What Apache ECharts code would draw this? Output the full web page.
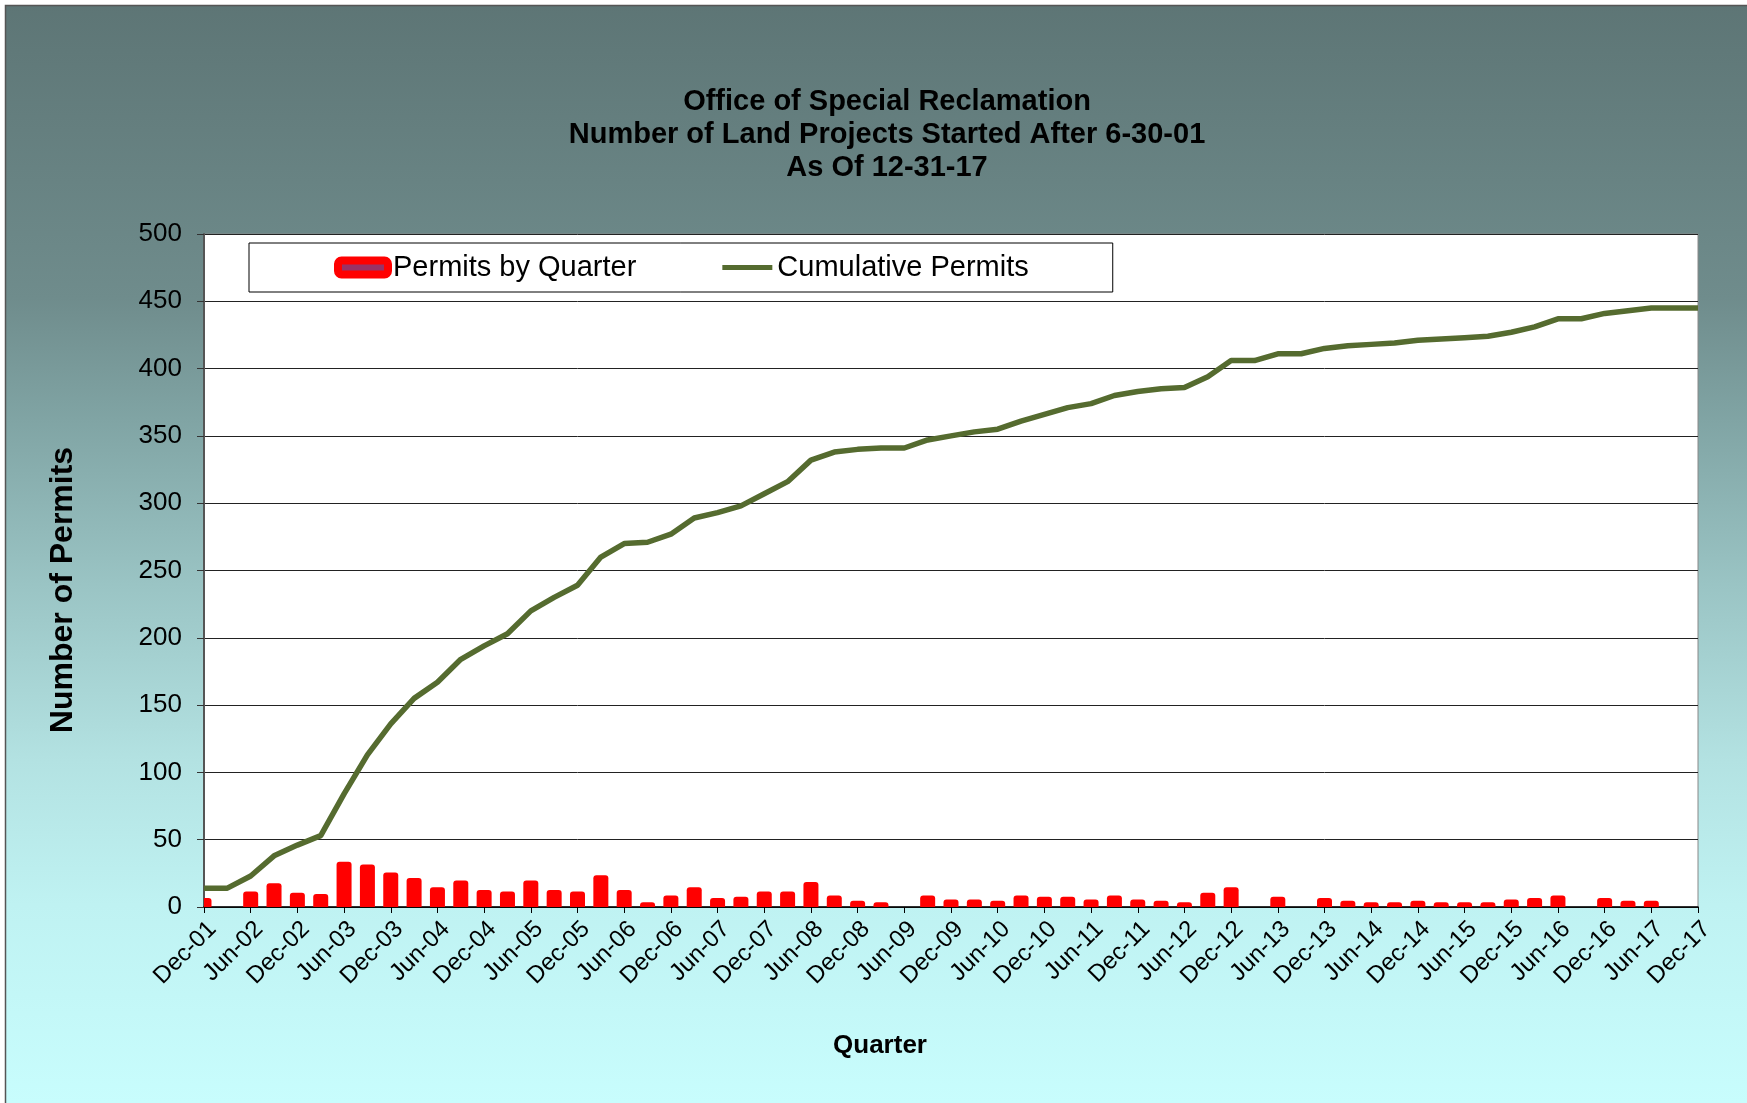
<!DOCTYPE html>
<html>
<head>
<meta charset="utf-8">
<title>Office of Special Reclamation</title>
<script src="https://cdn.jsdelivr.net/npm/echarts@6/dist/echarts.min.js"></script>
<style>
  html, body { margin: 0; padding: 0; background: #fff; }
  #main { width: 1747px; height: 1103px; }
</style>
</head>
<body>
<div id="main"></div>
<script>
// quarters, Dec-01 .. Dec-17
const quarters = [
  'Dec-01', 'Mar-02', 'Jun-02', 'Sep-02', 'Dec-02', 'Mar-03', 'Jun-03', 'Sep-03', 'Dec-03',
  'Mar-04', 'Jun-04', 'Sep-04', 'Dec-04', 'Mar-05', 'Jun-05', 'Sep-05', 'Dec-05',
  'Mar-06', 'Jun-06', 'Sep-06', 'Dec-06', 'Mar-07', 'Jun-07', 'Sep-07', 'Dec-07',
  'Mar-08', 'Jun-08', 'Sep-08', 'Dec-08', 'Mar-09', 'Jun-09', 'Sep-09', 'Dec-09',
  'Mar-10', 'Jun-10', 'Sep-10', 'Dec-10', 'Mar-11', 'Jun-11', 'Sep-11', 'Dec-11',
  'Mar-12', 'Jun-12', 'Sep-12', 'Dec-12', 'Mar-13', 'Jun-13', 'Sep-13', 'Dec-13',
  'Mar-14', 'Jun-14', 'Sep-14', 'Dec-14', 'Mar-15', 'Jun-15', 'Sep-15', 'Dec-15',
  'Mar-16', 'Jun-16', 'Sep-16', 'Dec-16', 'Mar-17', 'Jun-17', 'Sep-17', 'Dec-17'
];

const permitsByQuarter = [
  4, 0, 9, 15, 8, 7, 31, 29, 23,
  19, 12, 17, 10, 9, 17, 10, 9,
  21, 10, 1, 6, 12, 4, 5, 9,
  9, 16, 6, 2, 1, 0, 6, 3,
  3, 2, 6, 5, 5, 3, 6, 3,
  2, 1, 8, 12, 0, 5, 0, 4,
  2, 1, 1, 2, 1, 1, 1, 3,
  4, 6, 0, 4, 2, 2, 0, 0
];

const cumulativePermits = [
  14, 14, 23, 38, 46, 53, 84, 113, 136,
  155, 167, 184, 194, 203, 220, 230, 239,
  260, 270, 271, 277, 289, 293, 298, 307,
  316, 332, 338, 340, 341, 341, 347, 350,
  353, 355, 361, 366, 371, 374, 380, 383,
  385, 386, 394, 406, 406, 411, 411, 415,
  417, 418, 419, 421, 422, 423, 424, 427,
  431, 437, 437, 441, 443, 445, 445, 445
];

const titleLines = [
  'Office of Special Reclamation',
  'Number of Land Projects Started After 6-30-01',
  'As Of 12-31-17'
];

const font = '"Liberation Sans", Arial, sans-serif';
const barRed = '#ff0000';
const lineGreen = '#556b2f';

const chart = echarts.init(document.getElementById('main'));

// excel style column: red bar with its thick outline (sticks out a bit above the value)
function renderPermitBar(params, api) {
  const v = api.value(1);
  if (!v) return null;
  const top = api.coord([api.value(0), v]);
  const base = api.coord([api.value(0), 0]);
  const w = 15;
  return {
    type: 'rect',
    shape: {
      x: top[0] - w / 2,
      y: top[1] - 3.5,
      width: w,
      height: base[1] - top[1] + 4,
      r: [3, 3, 0, 0]
    },
    style: { fill: barRed }
  };
}

const option = {
  animation: false,
  textStyle: { fontFamily: font },
  backgroundColor: {
    type: 'linear', x: 0, y: 0, x2: 0, y2: 1,
    colorStops: [
      { offset: 0, color: '#5d7575' },
      { offset: 0.27, color: '#6f8c8c' },
      { offset: 0.38, color: '#80a4a4' },
      { offset: 0.53, color: '#9ac4c4' },
      { offset: 0.69, color: '#b3e2e2' },
      { offset: 0.82, color: '#bff2f2' },
      { offset: 1, color: '#c8fdfd' }
    ]
  },
  title: {
    text: titleLines.join('\n'),
    left: 882,
    top: 80,
    textAlign: 'center',
    textStyle: {
      fontFamily: font,
      fontSize: 29,
      fontWeight: 'bold',
      color: '#000',
      lineHeight: 33
    }
  },
  legend: {
    left: 249,
    top: 243,
    padding: [10, 84, 10, 85],
    itemGap: 86,
    itemWidth: 50,
    itemHeight: 14,
    backgroundColor: '#ffffff',
    borderColor: '#000',
    borderWidth: 1,
    textStyle: { fontFamily: font, fontSize: 29, color: '#000' },
    data: [
      {
        name: 'Permits by Quarter',
        icon: 'roundRect',
        itemStyle: { color: '#993366', borderColor: barRed, borderWidth: 8 }
      },
      {
        name: 'Cumulative Permits',
        icon: 'path://M0,0H50V5H0Z',
        itemStyle: { color: lineGreen, borderWidth: 0 }
      }
    ]
  },
  grid: {
    left: 204,
    top: 234,
    right: 49,
    bottom: 196,
    show: true,
    backgroundColor: '#ffffff',
    borderColor: '#888',
    borderWidth: 1
  },
  xAxis: {
    type: 'category',
    data: quarters,
    boundaryGap: false,
    axisLine: { lineStyle: { color: '#000', width: 1.5 } },
    axisTick: { interval: 1, length: 6, lineStyle: { color: '#000' } },
    axisLabel: {
      interval: 1,
      rotate: 45,
      margin: 10,
      verticalAlign: 'top',
      fontFamily: font,
      fontSize: 24,
      color: '#000'
    },
    splitLine: { show: false }
  },
  yAxis: {
    type: 'value',
    min: 0,
    max: 500,
    interval: 50,
    axisLine: { show: true, lineStyle: { color: '#555', width: 2 } },
    axisTick: { show: true, length: 7, lineStyle: { color: '#333' } },
    axisLabel: { margin: 22, fontFamily: font, fontSize: 26, color: '#000' },
    splitLine: { lineStyle: { color: '#222', width: 1 } }
  },
  graphic: [
    {
      type: 'rect',
      shape: { x: 5, y: 0, width: 1800, height: 5 },
      style: { fill: '#fff' }
    },
    {
      type: 'rect',
      shape: { x: 0, y: 0, width: 5, height: 1103 },
      style: { fill: '#fff' }
    },
    {
      type: 'polyline',
      shape: { points: [[5.5, 1103], [5.5, 5.5], [1747, 5.5]] },
      style: { stroke: '#555', lineWidth: 1.5, fill: null }
    },
    {
      type: 'text',
      x: 63,
      y: 590,
      rotation: Math.PI / 2,
      style: {
        text: 'Number of Permits',
        fontFamily: font,
        fontSize: 32,
        fontWeight: 'bold',
        fill: '#000',
        align: 'center',
        verticalAlign: 'middle'
      }
    },
    {
      type: 'text',
      x: 880,
      y: 1046,
      style: {
        text: 'Quarter',
        fontFamily: font,
        fontSize: 26,
        fontWeight: 'bold',
        fill: '#000',
        align: 'center',
        verticalAlign: 'middle'
      }
    }
  ],
  series: [
    {
      name: 'Permits by Quarter',
      type: 'custom',
      renderItem: renderPermitBar,
      clip: true,
      encode: { x: 0, y: 1 },
      itemStyle: { color: barRed },
      data: permitsByQuarter.map((v, i) => [i, v]),
      z: 2
    },
    {
      name: 'Cumulative Permits',
      type: 'line',
      data: cumulativePermits,
      symbol: 'none',
      lineStyle: { color: lineGreen, width: 5.5 },
      itemStyle: { color: lineGreen },
      z: 3
    }
  ]
};

chart.setOption(option);
</script>
</body>
</html>
